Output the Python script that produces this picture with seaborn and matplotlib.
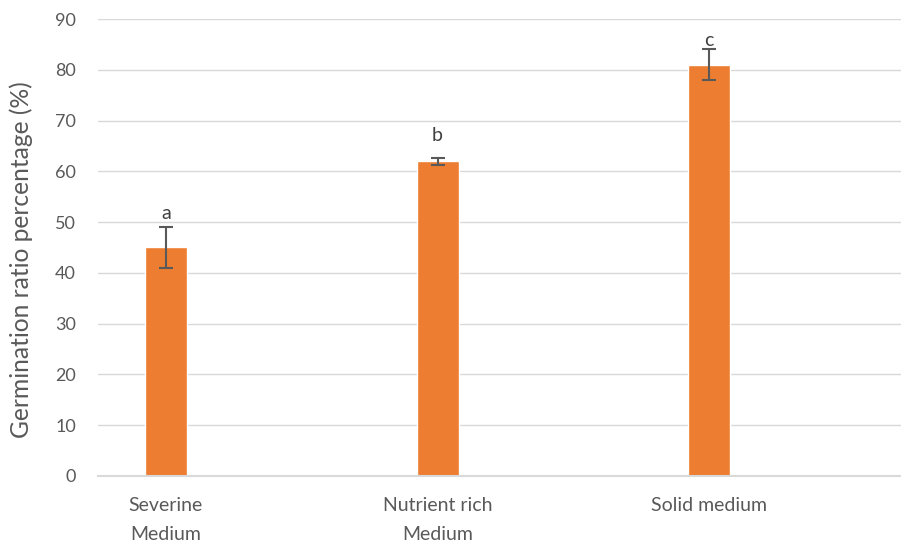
import matplotlib
matplotlib.use("Agg")
import matplotlib.pyplot as plt
import seaborn as sns
import pandas as pd

categories = ["Severine\nMedium", "Nutrient rich\nMedium", "Solid medium"]
germination = [45, 62, 81]
std_err = [4, 0.7, 3]
letters = ["a", "b", "c"]

sns.set_theme(style="white")
plt.rcParams["font.family"] = ["Lato", "DejaVu Sans"]

df = pd.DataFrame({"medium": categories, "rate": germination})

fig = plt.figure(figsize=(9.01, 5.46), dpi=100)
ax = fig.add_axes([98 / 901, 1 - 476 / 546, 1 - 98 / 901, (476 - 19) / 546])

ax.yaxis.grid(True, color="#D9D9D9", linewidth=1.0)
ax.set_axisbelow(True)

sns.barplot(data=df, x="medium", y="rate", color="#ED7D31", width=0.155,
            saturation=1, errorbar=None, ax=ax, zorder=2)

ax.errorbar(range(len(germination)), germination, yerr=std_err, fmt="none",
            ecolor="#595959", elinewidth=1.5, capsize=4.7, capthick=1.5, zorder=3)

label_offsets = [4, 10, 0]
for i, (m, e, t) in enumerate(zip(germination, std_err, letters)):
    ax.annotate(t, (i, m + e), xytext=(0, label_offsets[i]), textcoords="offset points",
                ha="center", va="bottom", fontsize=14, color="#404040")

ax.set_ylim(0, 90)
ax.set_yticks(range(0, 91, 10))
ax.set_xlim(-0.25, 2.706)

for side in ["top", "right", "left"]:
    ax.spines[side].set_visible(False)
ax.spines["bottom"].set_color("#D9D9D9")
ax.spines["bottom"].set_linewidth(1.5)

ax.tick_params(axis="y", length=0, pad=16, labelsize=13, labelcolor="#595959")
ax.tick_params(axis="x", length=0, pad=15, labelsize=14, labelcolor="#595959")
for lbl in ax.get_xticklabels():
    lbl.set_linespacing(1.85)

ax.set_xlabel("")
ax.set_ylabel("Germination ratio percentage (%)", fontsize=17.7, color="#595959")
ax.yaxis.set_label_coords(-0.081, 0.473)

fig.savefig("out.png", dpi=100)
